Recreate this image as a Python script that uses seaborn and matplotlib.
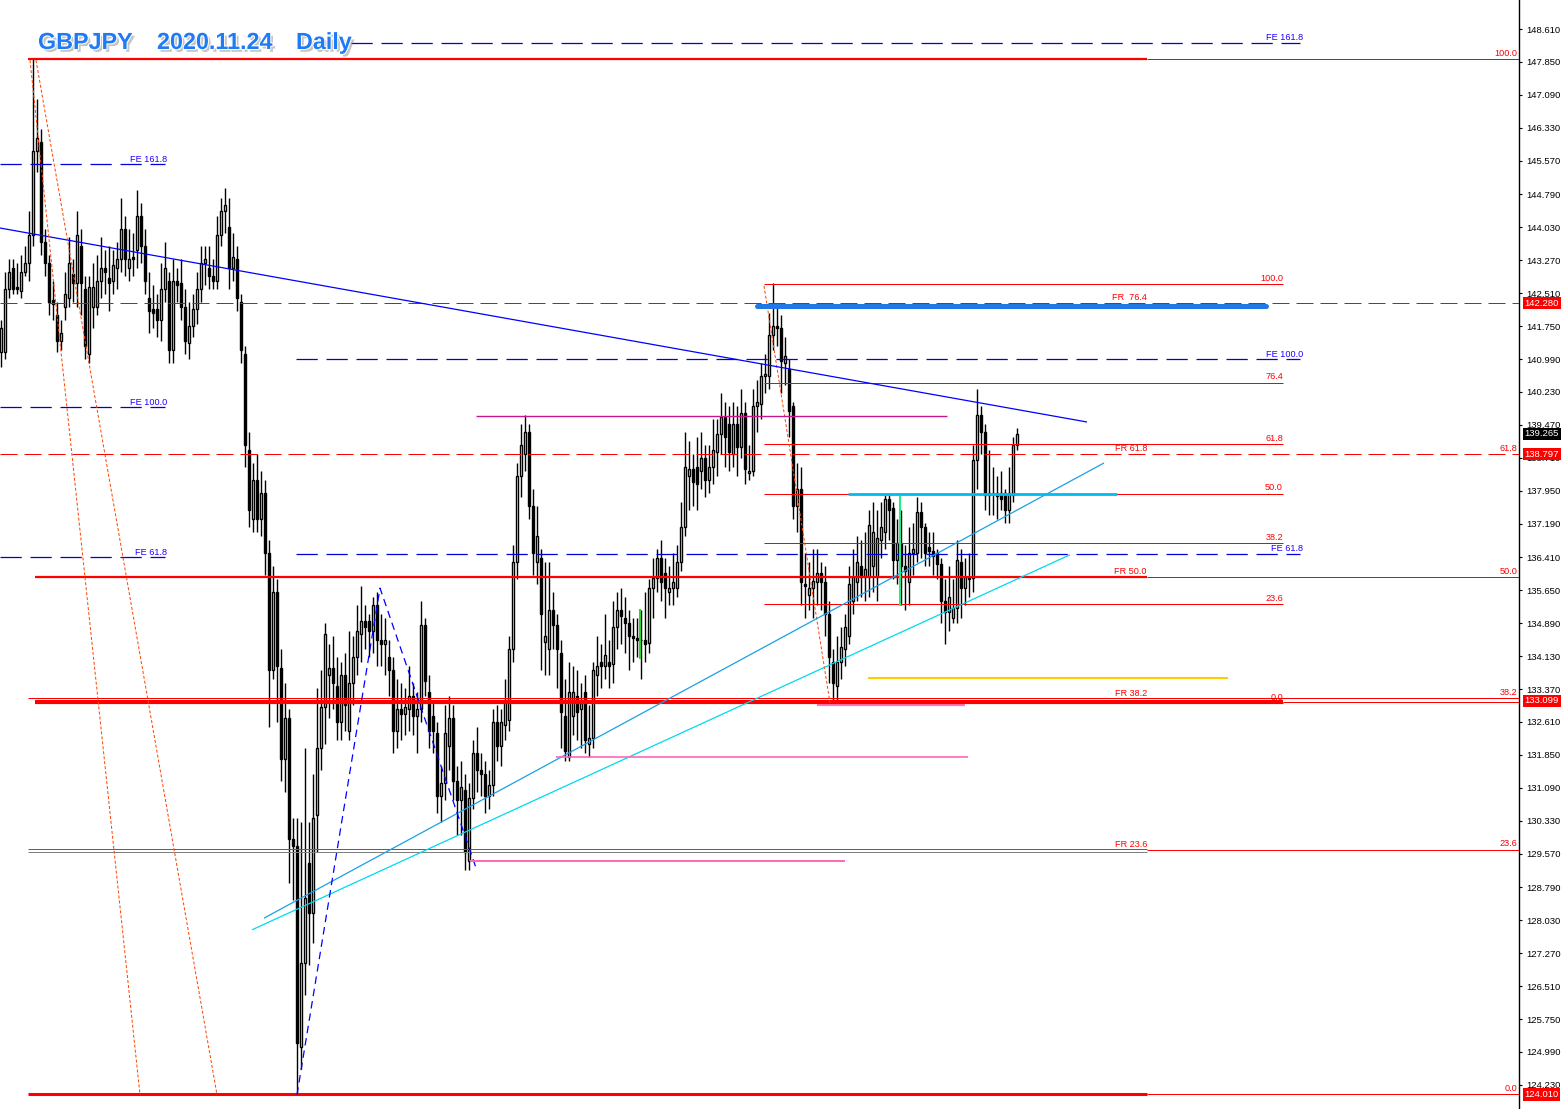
import numpy as np
import matplotlib
matplotlib.use("Agg")
import matplotlib.pyplot as plt
import matplotlib.patheffects as pe
import matplotlib.transforms as mtrans
import seaborn as sns

# daily GBPJPY bars (index 0 = first visible bar)
opens = [141.15, 141.15, 142.6, 143.1, 142.65, 142.55, 143.0, 143.2, 143.85, 145.8,
         146.0, 143.7, 143.2, 142.35, 142.0, 141.4, 142.2, 142.4, 142.95, 142.75,
         143.6, 142.6, 141.1, 142.2, 142.2, 142.8, 143.1, 142.85, 142.8, 143.1,
         143.3, 144.0, 143.1, 143.35, 143.5, 144.3, 143.6, 142.4, 142.15, 142.15,
         141.9, 142.6, 142.8, 141.2, 142.8, 142.75, 142.2, 141.35, 141.75, 142.15,
         142.6, 143.2, 143.1, 142.9, 142.8, 143.85, 144.4, 144.05, 143.1, 143.3,
         142.3, 141.1, 138.9, 137.3, 138.2, 137.3, 137.9, 136.5, 133.8, 135.6,
         133.85, 131.75, 132.7, 129.9, 129.75, 125.1, 127.05, 129.35, 128.2, 130.45,
         132.0, 132.95, 133.7, 133.85, 133.45, 132.6, 133.7, 132.4, 133.5, 134.1,
         134.65, 134.95, 134.95, 134.7, 135.3, 134.5, 134.4, 134.1, 133.8, 132.4,
         132.9, 132.8, 132.9, 133.2, 132.75, 132.9, 134.85, 133.3, 132.75, 132.35,
         130.9, 131.2, 132.05, 132.7, 131.25, 130.8, 131.05, 129.4, 130.85, 131.9,
         131.5, 131.4, 130.9, 131.15, 132.6, 132.05, 132.55, 132.65, 134.3, 136.3,
         138.3, 138.8, 139.3, 137.6, 136.3, 136.4, 134.45, 134.3, 135.2, 134.85,
         134.2, 132.75, 131.8, 132.75, 133.2, 132.9, 133.3, 132.1, 132.25, 133.7,
         134.0, 133.9, 134.0, 133.95, 134.8, 135.2, 135.0, 134.9, 134.6, 134.55,
         134.5, 134.5, 134.43, 135.7, 135.93, 136.4, 136.05, 135.6, 135.7, 135.7,
         136.3, 137.1, 138.3, 138.45, 138.5, 138.4, 138.7, 138.2, 138.5, 138.85,
         139.25, 139.65, 139.5, 138.8, 139.5, 138.95, 139.75, 138.35, 138.4, 139.9,
         139.95, 140.6, 140.6, 141.55, 141.75, 141.7, 140.9, 140.75, 139.9, 137.6,
         138.0, 135.8, 135.55, 135.7, 135.85, 136.05, 135.85, 135.1, 134.0, 133.45,
         134.0, 134.3, 134.6, 135.4, 135.85, 136.2, 135.95, 135.95, 136.2, 135.95,
         136.8, 137.0, 137.75, 137.55, 136.35, 136.75, 136.2, 135.85, 136.5, 136.5,
         137.45, 137.1, 136.65, 136.55, 136.5, 136.25, 135.4, 135.15, 135.0, 135.25,
         136.3, 135.7, 135.95, 135.93, 138.66, 139.7, 139.3, 137.9, 137.9, 137.83,
         137.9, 137.9, 137.5, 137.85, 139.0]
highs = [141.9, 143.0, 143.3, 143.3, 143.2, 143.4, 143.6, 144.4, 147.95, 147.0,
         146.3, 144.0, 143.4, 142.8, 142.3, 141.9, 143.0, 143.8, 143.3, 144.4,
         144.0, 142.9, 142.9, 143.2, 143.4, 143.8, 143.5, 143.6, 143.5, 143.7,
         144.7, 144.3, 144.0, 143.9, 144.9, 144.6, 144.0, 143.0, 142.7, 142.5,
         143.2, 143.7, 143.0, 143.3, 143.1, 143.3, 142.6, 142.3, 142.5, 143.0,
         143.6, 143.6, 143.6, 143.3, 144.3, 144.7, 144.95, 144.7, 143.9, 143.6,
         142.5, 141.3, 139.3, 138.6, 138.8, 138.4, 138.2, 136.8, 136.2, 135.9,
         134.3, 133.5, 132.9, 130.4, 130.4, 130.3, 132.0, 130.3, 131.4, 133.4,
         133.8, 134.9, 134.4, 134.6, 134.1, 134.0, 134.2, 134.7, 134.6, 135.3,
         135.75, 135.3, 135.1, 135.5, 135.6, 135.1, 135.0, 134.5, 134.1, 133.6,
         133.5, 133.4, 133.9, 133.5, 133.3, 135.4, 135.0, 133.7, 133.1, 132.6,
         131.6, 133.0, 133.2, 133.0, 131.6, 131.7, 131.4, 131.2, 132.2, 132.5,
         131.9, 131.7, 131.5, 132.9, 133.0, 132.9, 133.6, 134.6, 136.7, 138.6,
         139.5, 139.7, 139.5, 138.0, 137.6, 136.6, 136.3, 136.3, 135.6, 135.1,
         134.5, 133.6, 134.0, 133.9, 133.8, 133.5, 133.7, 133.0, 134.0, 134.6,
         134.4, 135.1, 134.5, 135.4, 135.6, 135.7, 135.5, 135.2, 135.0, 135.0,
         135.2, 135.6, 135.9, 136.4, 136.6, 136.8, 136.4, 136.2, 136.5, 136.7,
         137.7, 139.3, 139.1, 138.8, 139.2, 139.3, 139.0, 139.0, 139.6, 139.6,
         140.2, 140.0, 139.9, 140.0, 139.9, 140.3, 140.0, 139.0, 140.3, 140.5,
         140.9, 141.1, 142.05, 142.75, 142.2, 142.0, 141.5, 141.0, 140.0, 138.6,
         138.5, 136.5, 136.3, 136.6, 136.6, 136.3, 136.2, 135.4, 134.3, 134.6,
         134.8, 135.1, 136.2, 136.6, 136.9, 136.8, 137.0, 137.5, 137.7, 137.5,
         137.7, 137.85, 137.85, 137.7, 137.3, 137.5, 136.7, 137.1, 137.2, 137.8,
         137.7, 137.2, 137.0, 137.0, 136.6, 136.4, 135.9, 136.2, 135.9, 136.8,
         136.6, 136.4, 136.5, 139.0, 140.3, 139.9, 139.5, 138.9, 138.5, 138.3,
         138.4, 138.0, 138.5, 139.2, 139.4]
lows = [140.8, 141.0, 142.4, 142.5, 142.5, 142.4, 142.9, 142.8, 143.6, 145.3,
        143.4, 142.9, 142.0, 141.9, 141.15, 141.2, 141.9, 142.2, 142.3, 142.2,
        142.0, 141.0, 140.9, 141.7, 142.0, 142.4, 142.5, 142.1, 142.5, 142.6,
        143.0, 142.9, 142.8, 142.9, 143.1, 143.2, 142.5, 141.6, 141.7, 141.5,
        141.4, 142.3, 140.9, 140.9, 142.3, 141.9, 141.1, 141.0, 141.5, 141.8,
        142.3, 142.7, 142.6, 142.6, 142.6, 143.6, 143.9, 142.6, 142.8, 142.1,
        140.9, 138.5, 137.1, 137.0, 137.0, 136.9, 136.0, 132.5, 133.6, 132.6,
        131.25, 131.0, 128.9, 128.5, 124.01, 124.6, 126.3, 127.0, 127.5, 129.6,
        131.5, 132.1, 132.7, 132.9, 132.2, 132.2, 132.4, 132.2, 133.0, 133.7,
        134.0, 134.3, 134.1, 134.2, 133.9, 133.9, 133.7, 133.2, 131.9, 132.0,
        132.2, 132.3, 132.4, 132.3, 131.9, 132.6, 133.2, 132.0, 131.9, 130.5,
        130.3, 130.8, 131.5, 130.8, 130.0, 130.0, 129.2, 129.2, 130.6, 131.0,
        130.9, 130.5, 130.6, 130.9, 131.7, 131.6, 132.2, 132.4, 134.0, 135.9,
        137.8, 138.4, 137.3, 136.0, 135.8, 133.8, 133.7, 133.7, 134.3, 133.4,
        132.0, 131.7, 131.7, 132.3, 132.2, 132.0, 131.9, 131.8, 132.0, 133.2,
        133.4, 133.6, 133.4, 133.5, 134.3, 134.4, 134.2, 133.8, 134.0, 134.1,
        133.6, 134.0, 134.2, 135.0, 135.6, 135.4, 135.0, 135.3, 135.3, 135.5,
        136.1, 136.9, 137.5, 137.6, 137.5, 138.0, 137.8, 137.9, 138.1, 138.3,
        138.8, 138.5, 138.4, 138.5, 138.3, 138.7, 138.1, 138.2, 138.3, 139.3,
        139.6, 140.2, 140.3, 141.2, 141.3, 140.2, 140.4, 139.2, 137.3, 137.0,
        135.3, 135.0, 135.2, 135.0, 135.3, 135.2, 134.6, 133.5, 133.0, 133.1,
        133.6, 133.9, 134.4, 135.1, 135.4, 135.5, 135.4, 135.5, 135.6, 135.4,
        136.4, 136.6, 136.8, 135.9, 135.8, 135.3, 135.2, 135.3, 136.0, 136.3,
        136.4, 136.2, 136.2, 136.0, 135.9, 134.9, 134.4, 134.7, 134.9, 134.9,
        135.0, 135.3, 135.5, 135.6, 138.0, 138.8, 137.5, 137.4, 137.4, 137.3,
        137.5, 137.2, 137.2, 137.7, 138.9]
closes = [141.7, 142.6, 143.0, 142.6, 142.6, 143.0, 143.2, 143.85, 145.8, 146.1,
          143.7, 143.2, 142.3, 142.25, 141.4, 141.6, 142.5, 143.2, 142.75, 143.85,
          142.75, 141.3, 142.65, 142.65, 142.8, 143.1, 143.0, 142.75, 143.15, 143.3,
          144.0, 143.3, 143.3, 143.3, 144.3, 143.6, 142.8, 142.1, 142.05, 141.9,
          142.6, 143.1, 141.2, 142.8, 142.7, 142.2, 141.4, 141.75, 142.15, 142.6,
          143.2, 143.3, 142.9, 142.8, 143.85, 144.4, 144.55, 143.1, 143.35, 142.4,
          141.2, 139.0, 137.5, 138.2, 137.3, 137.9, 136.5, 133.8, 135.6, 133.9,
          131.75, 132.7, 129.9, 129.75, 125.2, 127.05, 128.55, 128.2, 130.4, 132.0,
          132.95, 134.65, 133.85, 133.5, 132.6, 133.7, 133.0, 133.5, 134.1, 134.7,
          134.95, 134.8, 134.7, 135.3, 134.5, 134.4, 134.5, 133.8, 132.4, 132.9,
          132.8, 132.95, 133.2, 132.75, 132.9, 134.85, 133.55, 132.4, 132.4, 130.9,
          131.2, 132.35, 132.7, 131.25, 130.8, 131.1, 129.6, 130.85, 131.9, 131.5,
          131.4, 130.9, 131.15, 132.6, 132.05, 132.6, 133.05, 134.3, 136.3, 138.3,
          139.0, 139.3, 137.6, 136.5, 136.9, 135.1, 134.6, 135.2, 134.85, 134.3,
          132.85, 131.95, 133.3, 133.3, 132.85, 133.05, 132.2, 132.25, 133.8, 133.9,
          133.9, 134.15, 133.9, 134.8, 135.2, 135.05, 134.9, 134.6, 134.55, 134.5,
          134.5, 134.4, 135.7, 135.93, 136.4, 135.85, 135.7, 135.7, 135.85, 136.3,
          137.1, 138.5, 138.45, 138.15, 138.1, 138.7, 138.2, 138.5, 138.9, 139.25,
          139.65, 139.2, 138.85, 139.5, 138.95, 139.75, 138.45, 138.4, 139.9, 140.0,
          140.6, 140.65, 141.55, 141.75, 141.7, 140.95, 141.05, 139.8, 137.6, 138.0,
          135.85, 135.75, 135.7, 135.86, 136.05, 135.85, 135.1, 134.1, 133.5, 134.0,
          134.35, 134.8, 135.8, 135.95, 136.3, 135.95, 136.15, 137.15, 137.0, 136.85,
          137.1, 137.75, 137.5, 136.35, 136.75, 136.2, 136.1, 136.5, 136.6, 137.45,
          137.1, 136.5, 136.55, 136.45, 136.25, 135.4, 135.15, 135.5, 135.25, 136.35,
          135.7, 135.95, 135.9, 138.65, 139.7, 139.3, 137.85, 137.85, 137.9, 137.9,
          137.75, 137.5, 137.9, 139.0, 139.265]

# drawn objects: bar index / price anchors
big_fib_prices = [147.92, 135.95, 124.01]
big_fib_labels = ["100.0", "50.0", "0.0"]
fr_prices = [142.28, 138.797, 135.95, 133.12, 129.64]
fr_labels = ["FR  76.4", "FR 61.8", "FR 50.0", "FR 38.2", "FR 23.6"]
small_fib_prices = [142.72, 140.44, 139.03, 137.885, 136.74, 135.33, 133.05]
small_fib_labels = ["100.0", "76.4", "61.8", "50.0", "38.2", "23.6", "0.0"]
fe_left_prices = [145.49, 139.88, 136.42]
fe_mid_prices = [148.29, 140.99, 136.49]
fe_labels = ["FE 161.8", "FE 100.0", "FE 61.8"]
trend_blue = ([-0.25, 271.5], [144.015, 139.536])
trend_sky = ([65.75, 275.75], [128.08, 138.59])
trend_cyan = ([62.75, 267.25], [127.81, 136.47])
zigzag = ([74, 94.75, 118.75], [124.0, 135.70, 129.24])
fib_diag_1 = ([7.25, 34.75], [147.89, 124.0])
fib_diag_2 = ([8.75, 54.0], [147.89, 124.0])
fib_diag_3 = ([190.75, 207.25], [142.68, 133.05])
axis_ticks = [148.610, 147.850, 147.090, 146.330, 145.570, 144.790, 144.030,
              143.270, 142.510, 141.750, 140.990, 140.230, 139.470, 138.710,
              137.950, 137.190, 136.410, 135.650, 134.890, 134.130, 133.370,
              132.610, 131.850, 131.090, 130.330, 129.570, 128.790, 128.030,
              127.270, 126.510, 125.750, 124.990, 124.230]
price_boxes = [(142.280, "#FF0000"), (139.265, "#000000"), (138.797, "#FF0000"),
               (133.099, "#FF0000"), (124.010, "#FF0000")]

sns.set_theme(style="white")
plt.rcParams["font.family"] = ["Liberation Sans", "DejaVu Sans"]

fig = plt.figure(figsize=(15.64, 11.09), dpi=100)
ax = fig.add_axes([0, 0, 1519 / 1564, 1])
ax.set_xlim(-0.25, 379.5)
ax.set_ylim(123.673, 149.28)
ax.set_facecolor("white")

o = np.array(opens); h = np.array(highs); l = np.array(lows); c = np.array(closes)
idx = np.arange(len(c))
up = c >= o
ax.vlines(idx, l, h, color="black", lw=1.0, zorder=2)
ax.bar(idx[up], (c - o)[up], bottom=o[up], width=0.5, color="white",
       edgecolor="black", lw=1.0, zorder=3)
ax.bar(idx[~up], (o - c)[~up], bottom=c[~up], width=0.5, color="black",
       edgecolor="black", lw=1.0, zorder=3)

PX = 0.72
RED = "#FF0000"
FEBLUE = "#0000DD"


def seg(xs, ys, color, lw=PX, ls="-", z=5, cap="butt"):
    ax.plot(xs, ys, color=color, lw=lw, ls=ls, zorder=z,
            solid_capstyle=cap, dash_capstyle="butt")


def label(x, p, txt, color, ha="right", dy=1.0, size=6.6):
    ax.annotate(txt, (x, p), xytext=(0, dy), textcoords="offset points",
                ha=ha, va="bottom", color=color, fontsize=size, zorder=8)


dash = (0, (17, 7))

# big retracement
seg([6.75, 286.5], [big_fib_prices[0]] * 2, RED, lw=1.6)
seg([8.5, 286.5], [big_fib_prices[1]] * 2, RED, lw=1.6)
seg([6.75, 286.5], [big_fib_prices[2]] * 2, RED, lw=2.2)
for p in big_fib_prices:
    seg([286.5, 379.5], [p, p], RED)
seg([6.75, 379.5], [133.16, 133.16], RED)
seg([8.5, 320.5], [133.08, 133.08], RED, lw=3.0)
seg([320.5, 379.5], [133.08, 133.08], RED)
seg([6.75, 286.5], [129.61, 129.61], "#808080")
seg([6.75, 286.5], [129.67, 129.67], "#606060")
seg([286.5, 379.5], [129.66, 129.66], RED)
seg([-0.25, 379.5], [142.28, 142.28], RED, ls=dash)
seg([-0.25, 379.5], [138.797, 138.797], RED, ls=dash)
for p, t in zip(big_fib_prices, big_fib_labels):
    label(379.1, p, t, RED)
label(379.1, 138.797, "61.8", RED)
label(379.1, 133.16, "38.2", RED)
label(379.1, 129.66, "23.6", RED)
for p, t in zip(fr_prices, fr_labels):
    label(286.5, p, t, RED)

# small retracement
for p, t in zip(small_fib_prices, small_fib_labels):
    seg([190.75, 320.5], [p, p], RED)
    label(320.5, p, t, RED)
seg(*fib_diag_3, "#FF4500", ls=(0, (3, 2)))

# expansions
for p, t in zip(fe_left_prices, fe_labels):
    seg([-0.25, 41.0], [p, p], FEBLUE, lw=0.9, ls=dash)
    label(41.5, p, t, "#2000FF", dy=0.3)
for k, (p, t) in enumerate(zip(fe_mid_prices, fe_labels)):
    seg([87.5 if k == 0 else 73.75, 324.75], [p, p], FEBLUE, lw=0.9, ls=dash)
    label(325.5, p, t, "#2000FF", dy=0.3)

# trend lines
seg(*trend_blue, "#0000FF", lw=0.9)
seg(*trend_sky, "#1AA0E8", lw=0.9)
seg(*trend_cyan, "#00D8F0", lw=0.9)
seg(*zigzag, "#0000FF", lw=0.9, ls=(0, (6, 4)))
seg(*fib_diag_1, "#FF4500", ls=(0, (3, 2)))
seg(*fib_diag_2, "#FF4500", ls=(0, (3, 2)))

# horizontal marks
seg([189.0, 316.25], [142.21, 142.21], "#1E78E6", lw=3.6, cap="round", z=6)
seg([118.75, 236.5], [139.67, 139.67], "#C8168C", lw=1.0)
seg([138.75, 241.75], [131.80, 131.80], "#FF66BB", lw=1.2)
seg([117.25, 211.0], [129.40, 129.40], "#FF66BB", lw=1.4)
seg([204.0, 241.0], [133.00, 133.00], "#FF77BB", lw=1.6, z=4)
seg([216.75, 306.75], [133.62, 133.62], "#FFCC00", lw=1.5)
seg([211.75, 279.0], [137.87, 137.87], "#00BBEE", lw=2.0)
seg([159.75, 159.75], [134.06, 135.21], "#22DD22", lw=1.5)
seg([224.75, 224.75], [135.29, 137.83], "#22EE88", lw=1.5)

# title
tpe = [pe.withSimplePatchShadow(offset=(2, -2), shadow_rgbFace="#7f7f7f", alpha=0.45),
       pe.withStroke(linewidth=1.5, foreground="white")]
for xpx, txt in [(38, "GBPJPY"), (157, "2020.11.24"), (296, "Daily")]:
    fig.text(xpx / 1564, 1 - 49 / 1109, txt, color="#1E7BF5", fontsize=16.8,
             fontweight="bold", ha="left", va="baseline", path_effects=tpe, zorder=10)

# price axis on the right
for s in ["top", "left", "bottom"]:
    ax.spines[s].set_visible(False)
ax.spines["right"].set_color("black")
ax.spines["right"].set_linewidth(1.0)
ax.set_xticks([])
ax.yaxis.tick_right()
ax.set_yticks(axis_ticks)
ax.set_yticklabels([f"{t:.3f}" for t in axis_ticks])
ax.tick_params(axis="y", length=2.5, width=0.8, pad=2.5, labelsize=6.8,
               colors="black", right=True)
ax.grid(False)

btr = mtrans.blended_transform_factory(fig.transFigure, ax.transData)
for p, col in price_boxes:
    ax.text(1524.5 / 1564, p, f"{p:.3f}", transform=btr, ha="left", va="center",
            fontsize=6.8, color="white", clip_on=False, zorder=12,
            bbox=dict(boxstyle="square,pad=0.18", fc=col, ec="none"))

fig.savefig("out.png", dpi=100, facecolor="white")
